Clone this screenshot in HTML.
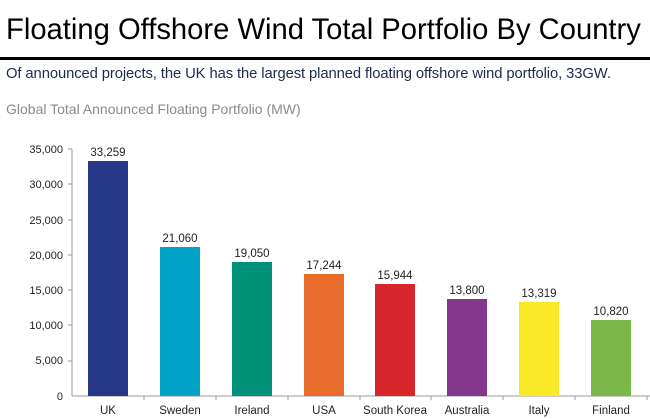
<!DOCTYPE html>
<html><head><meta charset="utf-8"><style>
body{margin:0;width:650px;height:419px;background:#fff;font-family:"Liberation Sans",sans-serif;overflow:hidden;position:relative}
.t{position:absolute;left:6px;top:14px;font-size:29.2px;color:#000;white-space:nowrap;letter-spacing:0px}
.hr{position:absolute;left:0;top:57px;width:650px;height:3px;background:#000}
.s{position:absolute;left:6px;top:66px;font-size:14.8px;color:#1c2a4e;white-space:nowrap;letter-spacing:-0.1px}
.c{position:absolute;left:6px;top:101px;font-size:14px;color:#8a8a8a;white-space:nowrap}
</style></head><body>
<div class="t">Floating Offshore Wind Total Portfolio By Country</div>
<div class="hr"></div>
<div class="s">Of announced projects, the UK has the largest planned floating offshore wind portfolio, 33GW.</div>
<div class="c">Global Total Announced Floating Portfolio (MW)</div>
<svg width="650" height="419" style="position:absolute;left:0;top:0" font-family="Liberation Sans, sans-serif" font-size="11">
<g fill="#222" text-anchor="end">
<text x="63" y="153">35,000</text><text x="63" y="188">30,000</text><text x="63" y="224">25,000</text><text x="63" y="259">20,000</text><text x="63" y="294">15,000</text><text x="63" y="329">10,000</text><text x="63" y="364">5,000</text><text x="63" y="400">0</text>
</g>
<g stroke="#999" stroke-width="1">
<line x1="72" y1="149" x2="72" y2="396"/><line x1="72" y1="396" x2="650" y2="396"/>
<line x1="68" y1="149" x2="72" y2="149"/><line x1="68" y1="184" x2="72" y2="184"/><line x1="68" y1="220" x2="72" y2="220"/><line x1="68" y1="255" x2="72" y2="255"/><line x1="68" y1="290" x2="72" y2="290"/><line x1="68" y1="325" x2="72" y2="325"/><line x1="68" y1="361" x2="72" y2="361"/>
<line x1="144" y1="396" x2="144" y2="400"/><line x1="216" y1="396" x2="216" y2="400"/><line x1="288" y1="396" x2="288" y2="400"/><line x1="360" y1="396" x2="360" y2="400"/><line x1="431" y1="396" x2="431" y2="400"/><line x1="503" y1="396" x2="503" y2="400"/><line x1="575" y1="396" x2="575" y2="400"/><line x1="647" y1="396" x2="647" y2="400"/>
</g>
<rect x="88" y="161" width="40" height="235" fill="#253786"/>
<rect x="160" y="247" width="40" height="149" fill="#00a3c7"/>
<rect x="232" y="262" width="40" height="134" fill="#00917a"/>
<rect x="304" y="274" width="40" height="122" fill="#e86c2c"/>
<rect x="375" y="284" width="40" height="112" fill="#d9262c"/>
<rect x="447" y="299" width="40" height="97" fill="#82378c"/>
<rect x="519" y="302" width="40" height="94" fill="#f9e826"/>
<rect x="591" y="320" width="40" height="76" fill="#7ab648"/>
<g fill="#222" text-anchor="middle" font-size="11.5">
<text x="108" y="156">33,259</text><text x="180" y="242">21,060</text><text x="252" y="257">19,050</text><text x="324" y="269">17,244</text><text x="395" y="279">15,944</text><text x="467" y="294">13,800</text><text x="539" y="297">13,319</text><text x="611" y="315">10,820</text>
<text x="108" y="414">UK</text><text x="180" y="414">Sweden</text><text x="252" y="414">Ireland</text><text x="324" y="414">USA</text><text x="395" y="414">South Korea</text><text x="467" y="414">Australia</text><text x="539" y="414">Italy</text><text x="611" y="414">Finland</text>
</g>
</svg>
</body></html>
